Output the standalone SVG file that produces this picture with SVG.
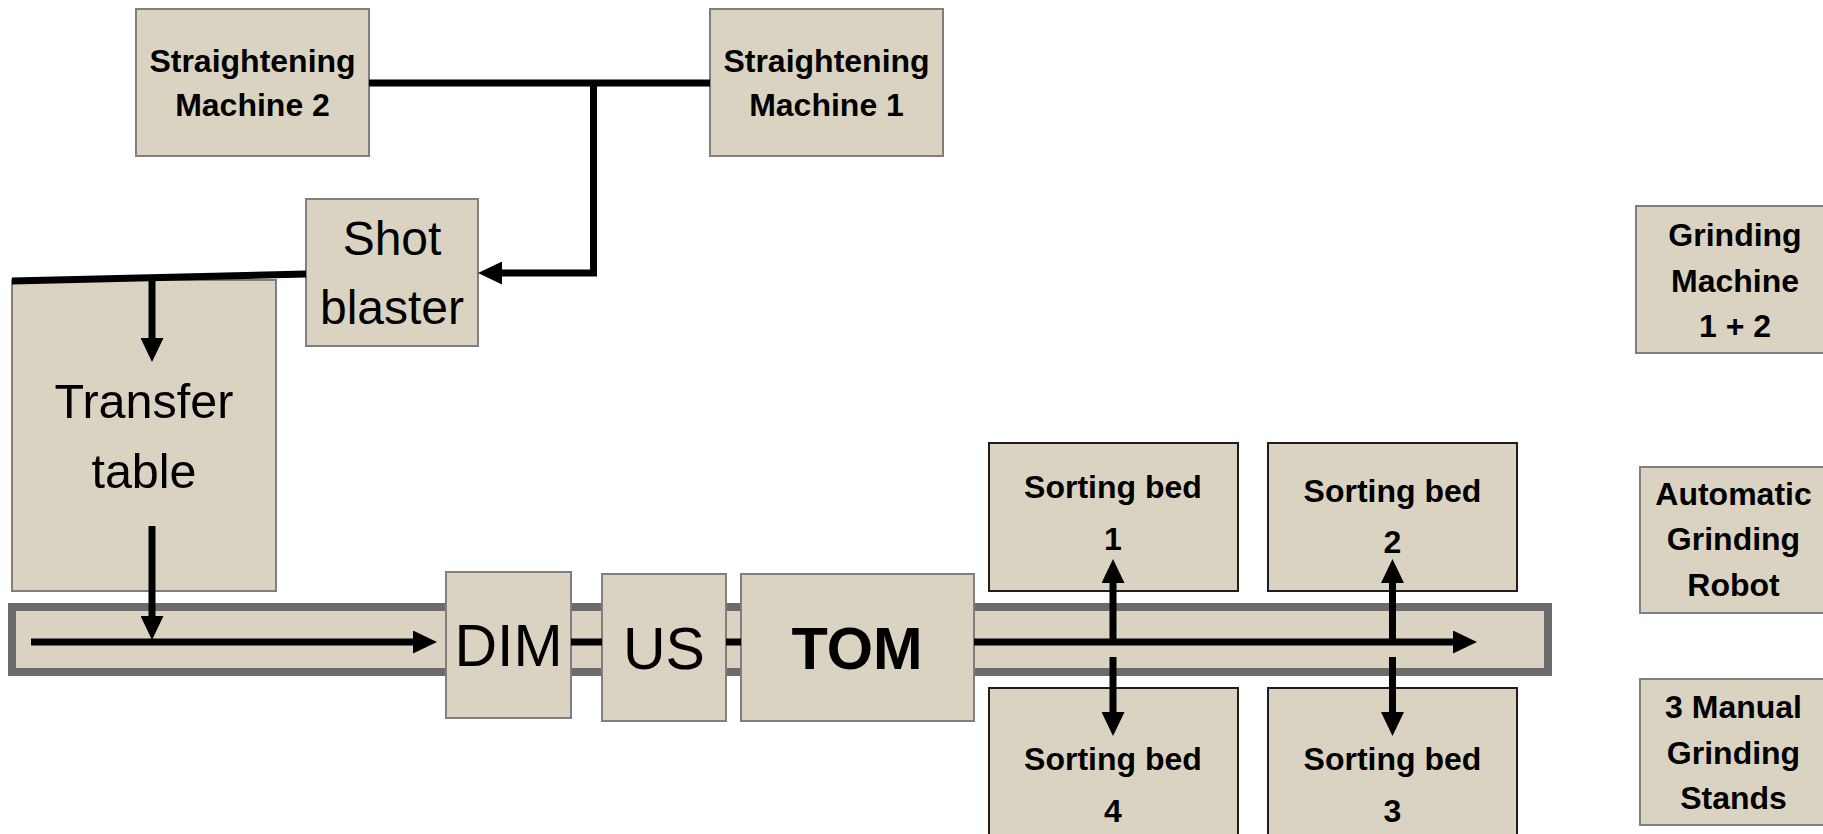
<svg xmlns="http://www.w3.org/2000/svg" width="1823" height="834" viewBox="0 0 1823 834">
<defs>
<style>
.box{fill:#dbd3c1;stroke:#7f7f7f;stroke-width:2}
.dark{fill:#dbd3c1;stroke:#1e1e1e;stroke-width:2}
.b{font-family:"Liberation Sans",Arial,sans-serif;font-weight:bold;fill:#000;text-anchor:middle}
.r{font-family:"Liberation Sans",Arial,sans-serif;fill:#000;text-anchor:middle}
.ln{fill:none;stroke:#000;stroke-width:7}
.arr{fill:none;stroke:#000;stroke-width:7;marker-end:url(#ah)}
</style>
<marker id="ah" markerUnits="userSpaceOnUse" viewBox="0 0 24 23" refX="12" refY="11.5" markerWidth="24" markerHeight="23" orient="auto">
<path d="M0,0 L24,11.5 L0,23 z" fill="#000"/>
</marker>
</defs>
<rect width="1823" height="834" fill="#fff"/>

<g id="conveyor">
<rect x="12" y="607" width="1536" height="65" fill="#dbd3c1" stroke="#6b6b6b" stroke-width="8"/>
</g>

<g id="straightening2">
<rect class="box" x="136" y="9" width="233" height="147"/>
<text class="b" x="252.5" y="72" font-size="32">Straightening</text>
<text class="b" x="252.5" y="116" font-size="32">Machine 2</text>
</g>
<g id="straightening1">
<rect class="box" x="710" y="9" width="233" height="147"/>
<text class="b" x="826.5" y="72" font-size="32">Straightening</text>
<text class="b" x="826.5" y="116" font-size="32">Machine 1</text>
</g>
<g id="shotblaster">
<rect class="box" x="306" y="199" width="172" height="147"/>
<text class="r" x="392" y="255" font-size="48">Shot</text>
<text class="r" x="392" y="324" font-size="48">blaster</text>
</g>
<g id="transfertable">
<rect class="box" x="12" y="280" width="264" height="311"/>
<text class="r" x="144" y="418" font-size="48.5">Transfer</text>
<text class="r" x="144" y="488" font-size="48.5">table</text>
</g>
<g id="dim">
<rect class="box" x="446" y="572" width="125" height="146"/>
<text class="r" x="508.5" y="666" font-size="59">DIM</text>
</g>
<g id="us">
<rect class="box" x="602" y="574" width="124" height="147"/>
<text class="r" x="664" y="669" font-size="59">US</text>
</g>
<g id="tom">
<rect class="box" x="741" y="574" width="233" height="147"/>
<text class="b" x="857" y="669" font-size="59.5">TOM</text>
</g>
<g id="sortingbed1">
<rect class="dark" x="989" y="443" width="249" height="148"/>
<text class="b" x="1113" y="498" font-size="32">Sorting bed</text>
<text class="b" x="1113" y="550" font-size="32">1</text>
</g>
<g id="sortingbed2">
<rect class="dark" x="1268" y="443" width="249" height="148"/>
<text class="b" x="1392.5" y="501.5" font-size="32">Sorting bed</text>
<text class="b" x="1392.5" y="553" font-size="32">2</text>
</g>
<g id="sortingbed4">
<rect class="dark" x="989" y="688" width="249" height="160"/>
<text class="b" x="1113" y="770" font-size="32">Sorting bed</text>
<text class="b" x="1113" y="822" font-size="32">4</text>
</g>
<g id="sortingbed3">
<rect class="dark" x="1268" y="688" width="249" height="160"/>
<text class="b" x="1392.5" y="770" font-size="32">Sorting bed</text>
<text class="b" x="1392.5" y="822" font-size="32">3</text>
</g>
<g id="grinding12">
<rect class="box" x="1636" y="206" width="200" height="147"/>
<text class="b" x="1735" y="246" font-size="32">Grinding</text>
<text class="b" x="1735" y="291.5" font-size="32">Machine</text>
<text class="b" x="1735" y="336.5" font-size="32">1 + 2</text>
</g>
<g id="robot">
<rect class="box" x="1640" y="467" width="200" height="146"/>
<text class="b" x="1733.5" y="505" font-size="32">Automatic</text>
<text class="b" x="1733.5" y="550" font-size="32">Grinding</text>
<text class="b" x="1733.5" y="596" font-size="32">Robot</text>
</g>
<g id="manualstands">
<rect class="box" x="1640" y="679" width="200" height="146"/>
<text class="b" x="1733.5" y="718" font-size="32">3 Manual</text>
<text class="b" x="1733.5" y="764" font-size="32">Grinding</text>
<text class="b" x="1733.5" y="809" font-size="32">Stands</text>
</g>

<g id="connectors">
<line class="ln" x1="369" y1="83" x2="710" y2="83" stroke-width="8"/>
<path class="arr" d="M593.5,83 V273 H490" stroke-width="8"/>
<line class="ln" x1="12" y1="281" x2="306" y2="274" stroke-width="8"/>
<path class="arr" d="M152,280 V350"/>
<path class="arr" d="M152,526 V628"/>
<path class="arr" d="M31,642 H425"/>
<path class="ln" d="M571,642 H602 M726,642 H741"/>
<path class="arr" d="M974,642 H1465"/>
<path class="arr" d="M1113,642 V571"/>
<path class="arr" d="M1392.5,642 V571"/>
<path class="arr" d="M1113,657 V724"/>
<path class="arr" d="M1392.5,657 V724"/>
</g>
</svg>
